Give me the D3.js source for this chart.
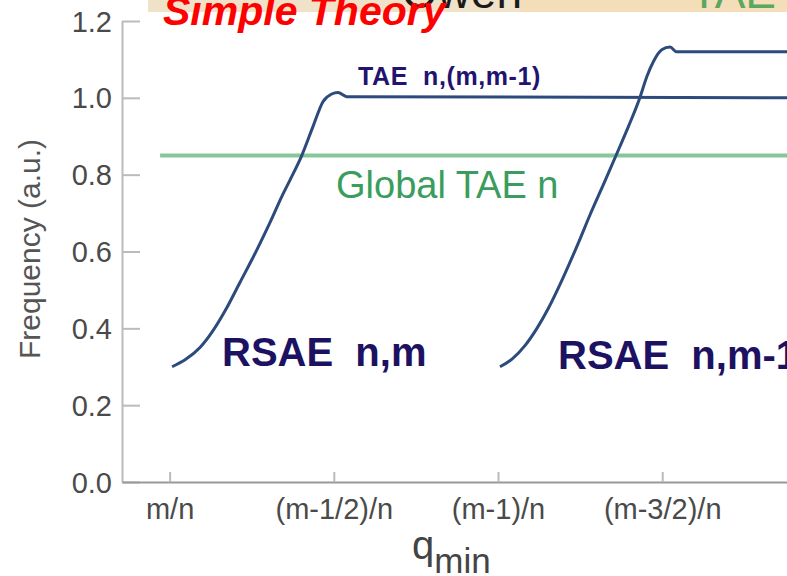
<!DOCTYPE html>
<html>
<head>
<meta charset="utf-8">
<script src="https://cdn.jsdelivr.net/npm/d3@7"></script>
<style>
  body { margin: 0; background: #fff; }
  text { font-family: Arial, "Liberation Sans", sans-serif; }
</style>
</head>
<body>
<div id="chart"></div>
<script>
// axis ticks
var yTicks = [0, 0.2, 0.4, 0.6, 0.8, 1.0, 1.2];
var xTicks = [0, 1, 2, 3];
var xTickLabels = ["m/n", "(m-1/2)/n", "(m-1)/n", "(m-3/2)/n"];

// RSAE n,m  -> TAE n,(m,m-1)   (x in units of tick spacing, m/n = 0)
var rsae1X = [0.015, 0.094, 0.185, 0.258, 0.337, 0.429, 0.538, 0.611, 0.683, 0.733, 0.804, 0.873, 0.934, 0.987, 1.025, 1.079, 3.76];
var rsae1Y = [0.30, 0.318, 0.35, 0.39, 0.445, 0.52, 0.61, 0.675, 0.743, 0.786, 0.849, 0.925, 0.99, 1.01, 1.014, 1.003, 1.0];

// RSAE n,m-1
var rsae2X = [2.012, 2.085, 2.164, 2.237, 2.310, 2.389, 2.487, 2.560, 2.653, 2.743, 2.794, 2.866, 2.906, 2.946, 2.997, 3.048, 3.088, 3.76];
var rsae2Y = [0.30, 0.32, 0.355, 0.40, 0.455, 0.525, 0.62, 0.695, 0.785, 0.874, 0.925, 1.003, 1.055, 1.094, 1.125, 1.132, 1.12, 1.12];

// global TAE frequency
var globalX = [-0.058, 3.76];
var globalY = [0.85, 0.85];

var width = 787, height = 576;

var svg = d3.select("#chart")
  .append("svg")
    .attr("width", width)
    .attr("height", height);

var x = d3.scaleLinear().domain([-0.29, 3.76]).range([122, 787]);
var y = d3.scaleLinear().domain([0, 1.2]).range([482, 21]);

// strip of the slide header that shows above the plot
var header = svg.append("g");
header.append("clipPath").attr("id", "hdr")
  .append("rect").attr("x", 0).attr("y", 0).attr("width", width).attr("height", 12);
var hg = header.append("g").attr("clip-path", "url(#hdr)");
hg.append("rect").attr("x", 148).attr("y", 0).attr("width", width - 148).attr("height", 12)
  .attr("fill", "#efe2c8");
hg.append("rect").attr("x", 520).attr("y", 0).attr("width", width - 520).attr("height", 12)
  .attr("fill", "#f6dcb2").attr("opacity", 0.7);
hg.append("text").attr("x", 522).attr("y", 8).attr("text-anchor", "end")
  .style("font-size", "46px").attr("fill", "#1a1a1a")
  .text("Owen");
hg.append("text").attr("x", 690).attr("y", 8)
  .style("font-size", "46px").attr("fill", "#5aa860")
  .text("TAE");

// Y axis
var yAxis = svg.append("g")
  .attr("transform", "translate(122,0)")
  .call(d3.axisLeft(y).tickValues(yTicks).tickFormat(d3.format(".1f"))
    .tickSizeInner(-18).tickSizeOuter(0).tickPadding(10));
yAxis.select(".domain").attr("stroke", "#bbb").attr("stroke-width", 2);
yAxis.selectAll(".tick line").attr("stroke", "#bbb").attr("stroke-width", 2);
yAxis.selectAll(".tick text")
  .style("font-size", "29px").attr("fill", "#4a4a4a").attr("dy", "0.35em");

// X axis
var xAxis = svg.append("g")
  .attr("transform", "translate(0,482)")
  .call(d3.axisBottom(x).tickValues(xTicks).tickFormat(function(d, i) { return xTickLabels[i]; })
    .tickSizeInner(-10).tickSizeOuter(0).tickPadding(16));
xAxis.select(".domain").attr("stroke", "#999").attr("stroke-width", 2);
xAxis.selectAll(".tick line").attr("stroke", "#bbb").attr("stroke-width", 2);
xAxis.selectAll(".tick text")
  .style("font-size", "29px").attr("fill", "#4a4a4a");

// axis titles
svg.append("text")
  .attr("transform", "translate(40,249)rotate(-90)")
  .attr("text-anchor", "middle")
  .style("font-size", "30px").attr("fill", "#555")
  .text("Frequency (a.u.)");

var qt = svg.append("text")
  .attr("x", 412).attr("y", 559)
  .attr("fill", "#444");
qt.append("tspan").style("font-size", "40px").text("q");
qt.append("tspan").attr("dy", 14).style("font-size", "35px").text("min");

// lines
var line = d3.line()
  .x(function(d) { return x(d[0]); })
  .y(function(d) { return y(d[1]); })
  .curve(d3.curveMonotoneX);

svg.append("path")
  .datum(d3.zip(globalX, globalY))
  .attr("d", line)
  .attr("fill", "none").attr("stroke", "#86c79a").attr("stroke-width", 4);

[[rsae1X, rsae1Y], [rsae2X, rsae2Y]].forEach(function(s) {
  svg.append("path")
    .datum(d3.zip(s[0], s[1]))
    .attr("d", line)
    .attr("fill", "none").attr("stroke", "#2c4a7c").attr("stroke-width", 3);
});

// labels
svg.append("text")
  .attr("x", 163).attr("y", 25)
  .style("font-size", "41px").style("font-weight", "bold").style("font-style", "italic")
  .attr("fill", "#ff0000")
  .text("Simple Theory");

svg.append("text")
  .attr("x", 358).attr("y", 85)
  .attr("xml:space", "preserve").style("white-space", "pre")
  .style("font-size", "25px").style("font-weight", "bold").style("letter-spacing", "0.6px")
  .attr("fill", "#22136e")
  .text("TAE  n,(m,m-1)");

svg.append("text")
  .attr("x", 336).attr("y", 198)
  .style("font-size", "38px").attr("fill", "#3a9d5d")
  .text("Global TAE n");

svg.append("text")
  .attr("x", 222).attr("y", 366)
  .attr("xml:space", "preserve").style("white-space", "pre")
  .style("font-size", "40px").style("font-weight", "bold").attr("fill", "#1d1262")
  .text("RSAE  n,m");

svg.append("text")
  .attr("x", 558).attr("y", 369)
  .attr("xml:space", "preserve").style("white-space", "pre")
  .style("font-size", "40px").style("font-weight", "bold").attr("fill", "#1d1262")
  .text("RSAE  n,m-1");
</script>
</body>
</html>
